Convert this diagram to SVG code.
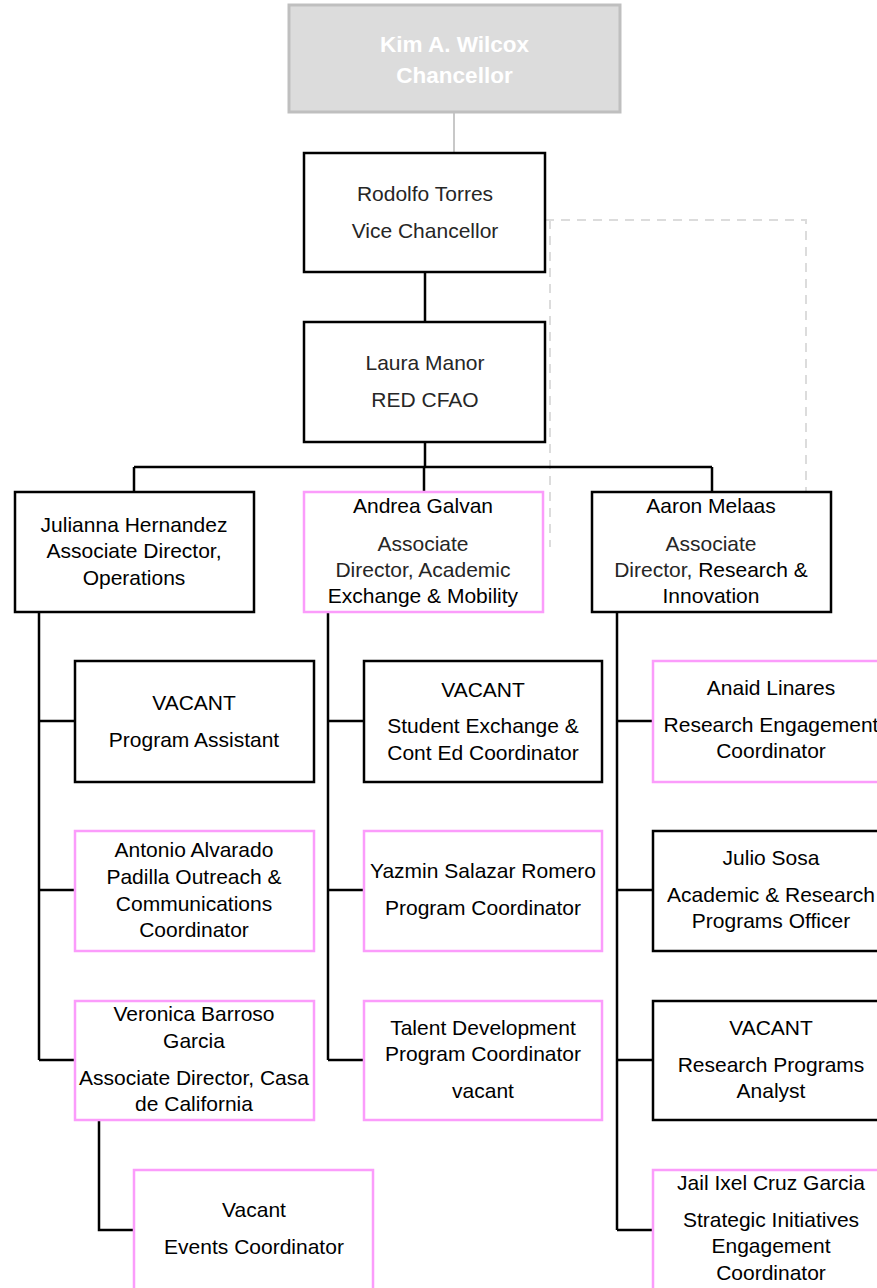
<svg xmlns="http://www.w3.org/2000/svg" width="877" height="1288" viewBox="0 0 877 1288">
<style>
.bx{fill:#fff;stroke:#000;stroke-width:2.5}
.pk{fill:#fff;stroke:#fb9cfb;stroke-width:2.5}
.ln{fill:none;stroke:#000;stroke-width:2.5}
.t{font-family:"Liberation Sans",Arial,sans-serif;font-size:21px;fill:#000;text-anchor:middle}
.lt{fill:#262626}
.hd{font-family:"Liberation Sans",Arial,sans-serif;font-size:22.5px;font-weight:bold;fill:#fff;text-anchor:middle}
</style>
<rect width="877" height="1288" fill="#fff"/>
<g id="connectors">
<line x1="454" y1="112" x2="454" y2="153" stroke="#c8c8c8" stroke-width="2"/>
<path d="M545,220 H806 V492 M550,220 V547" fill="none" stroke="#dcdcdc" stroke-width="2" stroke-dasharray="9,7"/>
<path class="ln" d="M425,272 V322 M425,442 V467 M134,467 H712 M134,467 V492 M424,467 V492 M712,467 V492"/>
<path class="ln" d="M39,612 V1060 M39,721 H75 M39,890 H75 M39,1060 H75"/>
<path class="ln" d="M328,612 V1060 M328,721 H364 M328,890 H364 M328,1060 H364"/>
<path class="ln" d="M617,612 V1230 M617,721 H653 M617,890 H653 M617,1060 H653 M617,1230 H653"/>
<path class="ln" d="M99,1120 V1230 H134"/>
</g>
<g id="chancellor">
<rect x="289" y="5" width="331" height="107" fill="#dcdcdc" stroke="#bfbfbf" stroke-width="3"/>
<text class="hd" x="454.5" y="52">Kim A. Wilcox</text>
<text class="hd" x="454.5" y="83">Chancellor</text>
</g>
<g id="rodolfo">
<rect class="bx" x="304" y="153" width="241" height="119"/>
<text class="t lt" x="425" y="201">Rodolfo Torres</text>
<text class="t lt" x="425" y="238">Vice Chancellor</text>
</g>
<g id="laura">
<rect class="bx" x="304" y="322" width="241" height="120"/>
<text class="t lt" x="425" y="370">Laura Manor</text>
<text class="t lt" x="425" y="407">RED CFAO</text>
</g>
<g id="julianna">
<rect class="bx" x="15" y="492" width="239" height="120"/>
<text class="t" x="134" y="532">Julianna Hernandez</text>
<text class="t" x="134" y="558">Associate Director,</text>
<text class="t" x="134" y="585">Operations</text>
</g>
<g id="andrea">
<rect class="pk" x="304" y="492" width="239" height="120"/>
<text class="t" x="423" y="513">Andrea Galvan</text>
<text class="t lt" x="423" y="551">Associate</text>
<text class="t lt" x="423" y="577">Director, Academic</text>
<text class="t" x="423" y="603">Exchange &amp; Mobility</text>
</g>
<g id="aaron">
<rect class="bx" x="592" y="492" width="239" height="120"/>
<text class="t" x="711" y="513">Aaron Melaas</text>
<text class="t lt" x="711" y="551">Associate</text>
<text class="t" x="711" y="577"><tspan class="lt">Director, </tspan>Research &amp;</text>
<text class="t" x="711" y="603">Innovation</text>
</g>
<g id="program-assistant">
<rect class="bx" x="75" y="661" width="239" height="121"/>
<text class="t" x="194" y="710">VACANT</text>
<text class="t" x="194" y="747">Program Assistant</text>
</g>
<g id="student-exchange">
<rect class="bx" x="364" y="661" width="238" height="121"/>
<text class="t" x="483" y="697">VACANT</text>
<text class="t" x="483" y="733">Student Exchange &amp;</text>
<text class="t" x="483" y="760">Cont Ed Coordinator</text>
</g>
<g id="anaid">
<rect class="pk" x="653" y="661" width="240" height="121"/>
<text class="t" x="771" y="695">Anaid Linares</text>
<text class="t" x="771" y="732">Research Engagement</text>
<text class="t" x="771" y="758">Coordinator</text>
</g>
<g id="antonio">
<rect class="pk" x="75" y="831" width="239" height="120"/>
<text class="t" x="194" y="857">Antonio Alvarado</text>
<text class="t" x="194" y="884">Padilla Outreach &amp;</text>
<text class="t" x="194" y="911">Communications</text>
<text class="t" x="194" y="937">Coordinator</text>
</g>
<g id="yazmin">
<rect class="pk" x="364" y="831" width="238" height="120"/>
<text class="t" x="483" y="878">Yazmin Salazar Romero</text>
<text class="t" x="483" y="915">Program Coordinator</text>
</g>
<g id="julio">
<rect class="bx" x="653" y="831" width="240" height="120"/>
<text class="t" x="771" y="865">Julio Sosa</text>
<text class="t" x="771" y="902">Academic &amp; Research</text>
<text class="t" x="771" y="928">Programs Officer</text>
</g>
<g id="veronica">
<rect class="pk" x="75" y="1001" width="239" height="119"/>
<text class="t" x="194" y="1021">Veronica Barroso</text>
<text class="t" x="194" y="1048">Garcia</text>
<text class="t" x="194" y="1085">Associate Director, Casa</text>
<text class="t" x="194" y="1111">de California</text>
</g>
<g id="talent">
<rect class="pk" x="364" y="1001" width="238" height="119"/>
<text class="t" x="483" y="1035">Talent Development</text>
<text class="t" x="483" y="1061">Program Coordinator</text>
<text class="t" x="483" y="1098">vacant</text>
</g>
<g id="research-analyst">
<rect class="bx" x="653" y="1001" width="240" height="119"/>
<text class="t" x="771" y="1035">VACANT</text>
<text class="t" x="771" y="1072">Research Programs</text>
<text class="t" x="771" y="1098">Analyst</text>
</g>
<g id="events">
<rect class="pk" x="134" y="1170" width="239" height="130"/>
<text class="t" x="254" y="1217">Vacant</text>
<text class="t" x="254" y="1254">Events Coordinator</text>
</g>
<g id="jail">
<rect class="pk" x="653" y="1170" width="240" height="130"/>
<text class="t" x="771" y="1190">Jail Ixel Cruz Garcia</text>
<text class="t" x="771" y="1227">Strategic Initiatives</text>
<text class="t" x="771" y="1253">Engagement</text>
<text class="t" x="771" y="1280">Coordinator</text>
</g>
</svg>
